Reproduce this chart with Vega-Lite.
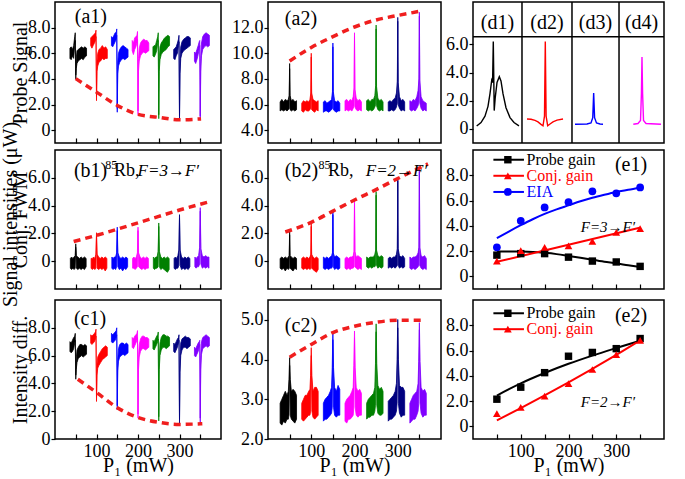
{
"$schema": "https://vega.github.io/schema/vega-lite/v6.json",
"background": "white",
"padding": {"left": 0, "top": 0, "right": 0, "bottom": 0},
"config": {
  "view": {"stroke": "#000000", "strokeWidth": 1.5},
  "axis": {"domain": false, "grid": false, "labelFont": "Liberation Serif", "labelFontSize": 18, "labelColor": "#000000", "tickColor": "#000000", "tickWidth": 1.2, "titleFont": "Liberation Serif", "titleFontSize": 20, "titleFontWeight": "normal", "titleColor": "#000000", "labelOverlap": false, "labelFlush": false, "tickCount": 20},
  "axisX": {"tickSize": -5, "labelPadding": 8},
  "axisY": {"tickSize": 4, "labelPadding": 1},
  "text": {"font": "Liberation Serif", "color": "#000000"}
},
"datasets": {
"a1": [
{"s":50,"x":36,"lo":5.6,"hi":6.4},{"s":50,"x":39,"lo":5.5,"hi":6.5},{"s":50,"x":42,"lo":5.8,"hi":6.3},{"s":50,"x":45,"lo":5.6,"hi":6.6},{"s":50,"x":47.5,"lo":6.6,"hi":7.3},{"s":50,"x":48.8,"lo":7.0,"hi":7.6},{"s":50,"x":50,"lo":4.0,"hi":4.3},{"s":50,"x":51.2,"lo":4.8,"hi":5.6},{"s":50,"x":53,"lo":5.2,"hi":6.2},{"s":50,"x":56,"lo":5.4,"hi":6.3},{"s":50,"x":60,"lo":5.5,"hi":6.4},{"s":50,"x":64,"lo":5.6,"hi":6.5},{"s":50,"x":68,"lo":5.5,"hi":6.4},{"s":50,"x":72,"lo":5.7,"hi":6.5},{"s":50,"x":76,"lo":5.8,"hi":6.4},
{"s":100,"x":86,"lo":6.6,"hi":7.2},{"s":100,"x":89,"lo":6.4,"hi":7.3},{"s":100,"x":92,"lo":6.6,"hi":7.4},{"s":100,"x":95,"lo":6.8,"hi":7.5},{"s":100,"x":97.5,"lo":7.0,"hi":7.6},{"s":100,"x":98.8,"lo":7.3,"hi":7.8},{"s":100,"x":100,"lo":2.3,"hi":2.6},{"s":100,"x":101.2,"lo":4.6,"hi":5.4},{"s":100,"x":103,"lo":5.0,"hi":6.0},{"s":100,"x":106,"lo":5.3,"hi":6.3},{"s":100,"x":110,"lo":5.4,"hi":6.4},{"s":100,"x":114,"lo":5.6,"hi":6.6},{"s":100,"x":118,"lo":5.5,"hi":6.4},{"s":100,"x":122,"lo":5.6,"hi":6.5},{"s":100,"x":126,"lo":5.6,"hi":6.3},
{"s":150,"x":136,"lo":6.6,"hi":7.3},{"s":150,"x":139,"lo":6.5,"hi":7.2},{"s":150,"x":142,"lo":6.7,"hi":7.4},{"s":150,"x":145,"lo":6.9,"hi":7.6},{"s":150,"x":147.5,"lo":7.1,"hi":7.6},{"s":150,"x":148.8,"lo":7.4,"hi":7.9},{"s":150,"x":150,"lo":1.4,"hi":1.7},{"s":150,"x":151.2,"lo":4.4,"hi":5.3},{"s":150,"x":153,"lo":5.0,"hi":6.0},{"s":150,"x":156,"lo":5.3,"hi":6.3},{"s":150,"x":160,"lo":5.5,"hi":6.5},{"s":150,"x":164,"lo":5.6,"hi":6.6},{"s":150,"x":168,"lo":5.5,"hi":6.5},{"s":150,"x":172,"lo":5.6,"hi":6.4},{"s":150,"x":176,"lo":5.7,"hi":6.3},
{"s":200,"x":186,"lo":6.2,"hi":7.0},{"s":200,"x":189,"lo":5.9,"hi":6.8},{"s":200,"x":192,"lo":6.3,"hi":7.2},{"s":200,"x":195,"lo":6.5,"hi":7.3},{"s":200,"x":197.5,"lo":6.8,"hi":7.4},{"s":200,"x":198.8,"lo":7.1,"hi":7.7},{"s":200,"x":200,"lo":1.2,"hi":1.5},{"s":200,"x":201.2,"lo":4.6,"hi":5.6},{"s":200,"x":203,"lo":5.4,"hi":6.4},{"s":200,"x":206,"lo":5.8,"hi":6.8},{"s":200,"x":210,"lo":6.0,"hi":7.0},{"s":200,"x":214,"lo":6.1,"hi":7.1},{"s":200,"x":218,"lo":6.0,"hi":7.0},{"s":200,"x":222,"lo":6.1,"hi":7.0},{"s":200,"x":226,"lo":6.2,"hi":6.8},
{"s":250,"x":236,"lo":5.8,"hi":6.5},{"s":250,"x":239,"lo":5.7,"hi":6.6},{"s":250,"x":242,"lo":5.9,"hi":6.6},{"s":250,"x":245,"lo":6.2,"hi":7.0},{"s":250,"x":247.5,"lo":6.8,"hi":7.3},{"s":250,"x":248.8,"lo":7.0,"hi":7.6},{"s":250,"x":250,"lo":0.9,"hi":1.2},{"s":250,"x":251.2,"lo":4.6,"hi":5.6},{"s":250,"x":253,"lo":5.5,"hi":6.5},{"s":250,"x":256,"lo":5.9,"hi":6.8},{"s":250,"x":260,"lo":6.1,"hi":7.0},{"s":250,"x":264,"lo":6.2,"hi":7.2},{"s":250,"x":268,"lo":6.3,"hi":7.3},{"s":250,"x":272,"lo":6.5,"hi":7.4},{"s":250,"x":276,"lo":6.6,"hi":7.3},
{"s":300,"x":286,"lo":5.6,"hi":6.3},{"s":300,"x":289,"lo":5.5,"hi":6.4},{"s":300,"x":292,"lo":5.8,"hi":6.5},{"s":300,"x":295,"lo":6.0,"hi":6.8},{"s":300,"x":297.5,"lo":6.6,"hi":7.1},{"s":300,"x":298.8,"lo":6.9,"hi":7.4},{"s":300,"x":300,"lo":0.8,"hi":1.1},{"s":300,"x":301.2,"lo":4.4,"hi":5.4},{"s":300,"x":303,"lo":5.6,"hi":6.5},{"s":300,"x":306,"lo":6.0,"hi":6.9},{"s":300,"x":310,"lo":6.2,"hi":7.1},{"s":300,"x":314,"lo":6.3,"hi":7.2},{"s":300,"x":318,"lo":6.4,"hi":7.3},{"s":300,"x":322,"lo":6.5,"hi":7.3},{"s":300,"x":326,"lo":6.6,"hi":7.2},
{"s":350,"x":336,"lo":5.4,"hi":6.1},{"s":350,"x":339,"lo":5.2,"hi":6.0},{"s":350,"x":342,"lo":5.5,"hi":6.3},{"s":350,"x":345,"lo":5.9,"hi":6.6},{"s":350,"x":347.5,"lo":6.4,"hi":6.9},{"s":350,"x":348.8,"lo":6.6,"hi":7.0},{"s":350,"x":350,"lo":0.8,"hi":1.1},{"s":350,"x":351.2,"lo":4.6,"hi":5.6},{"s":350,"x":353,"lo":5.8,"hi":6.8},{"s":350,"x":356,"lo":6.3,"hi":7.3},{"s":350,"x":360,"lo":6.5,"hi":7.5},{"s":350,"x":364,"lo":6.6,"hi":7.6},{"s":350,"x":368,"lo":6.5,"hi":7.5},{"s":350,"x":372,"lo":6.6,"hi":7.4}
],
"a1d": [{"x":50,"y":4.02},{"x":100,"y":2.97},{"x":150,"y":1.93},{"x":200,"y":1.23},{"x":250,"y":1.0},{"x":300,"y":0.81},{"x":352,"y":0.88}],
"a2": [
{"s":50,"x":28,"lo":5.5,"hi":6.2},{"s":50,"x":32,"lo":5.6,"hi":6.4},{"s":50,"x":36,"lo":5.5,"hi":6.2},{"s":50,"x":40,"lo":5.6,"hi":6.4},{"s":50,"x":44,"lo":5.5,"hi":6.3},{"s":50,"x":47,"lo":5.6,"hi":6.4},{"s":50,"x":49,"lo":5.7,"hi":6.7},{"s":50,"x":50,"lo":8.8,"hi":9.2},{"s":50,"x":51,"lo":5.6,"hi":6.7},{"s":50,"x":54,"lo":5.5,"hi":6.3},{"s":50,"x":58,"lo":5.6,"hi":6.4},{"s":50,"x":62,"lo":5.5,"hi":6.2},{"s":50,"x":66,"lo":5.6,"hi":6.3},
{"s":100,"x":78,"lo":5.5,"hi":6.1},{"s":100,"x":82,"lo":5.4,"hi":6.3},{"s":100,"x":86,"lo":5.6,"hi":6.2},{"s":100,"x":90,"lo":5.5,"hi":6.3},{"s":100,"x":94,"lo":5.5,"hi":6.2},{"s":100,"x":97,"lo":5.6,"hi":6.4},{"s":100,"x":99,"lo":5.7,"hi":6.9},{"s":100,"x":100,"lo":9.7,"hi":10.0},{"s":100,"x":101,"lo":5.6,"hi":6.9},{"s":100,"x":104,"lo":5.5,"hi":6.4},{"s":100,"x":108,"lo":5.4,"hi":6.3},{"s":100,"x":112,"lo":5.6,"hi":6.2},{"s":100,"x":116,"lo":5.5,"hi":6.3},
{"s":150,"x":128,"lo":5.4,"hi":6.2},{"s":150,"x":132,"lo":5.5,"hi":6.3},{"s":150,"x":136,"lo":5.5,"hi":6.1},{"s":150,"x":140,"lo":5.4,"hi":6.2},{"s":150,"x":144,"lo":5.5,"hi":6.3},{"s":150,"x":147,"lo":5.6,"hi":6.4},{"s":150,"x":149,"lo":5.7,"hi":7.0},{"s":150,"x":150,"lo":10.5,"hi":10.8},{"s":150,"x":151,"lo":5.6,"hi":7.0},{"s":150,"x":154,"lo":5.5,"hi":6.3},{"s":150,"x":158,"lo":5.4,"hi":6.2},{"s":150,"x":162,"lo":5.5,"hi":6.3},{"s":150,"x":166,"lo":5.5,"hi":6.1},
{"s":200,"x":178,"lo":5.5,"hi":6.3},{"s":200,"x":182,"lo":5.6,"hi":6.4},{"s":200,"x":186,"lo":5.5,"hi":6.2},{"s":200,"x":190,"lo":5.6,"hi":6.4},{"s":200,"x":194,"lo":5.5,"hi":6.3},{"s":200,"x":197,"lo":5.7,"hi":6.6},{"s":200,"x":199,"lo":5.9,"hi":7.3},{"s":200,"x":200,"lo":11.3,"hi":11.6},{"s":200,"x":201,"lo":5.8,"hi":7.2},{"s":200,"x":204,"lo":5.6,"hi":6.5},{"s":200,"x":208,"lo":5.5,"hi":6.3},{"s":200,"x":212,"lo":5.6,"hi":6.4},{"s":200,"x":216,"lo":5.5,"hi":6.2},
{"s":250,"x":228,"lo":5.6,"hi":6.3},{"s":250,"x":232,"lo":5.5,"hi":6.4},{"s":250,"x":236,"lo":5.6,"hi":6.2},{"s":250,"x":240,"lo":5.5,"hi":6.4},{"s":250,"x":244,"lo":5.6,"hi":6.4},{"s":250,"x":247,"lo":5.8,"hi":6.7},{"s":250,"x":249,"lo":6.0,"hi":7.5},{"s":250,"x":250,"lo":11.9,"hi":12.2},{"s":250,"x":251,"lo":5.9,"hi":7.4},{"s":250,"x":254,"lo":5.6,"hi":6.5},{"s":250,"x":258,"lo":5.5,"hi":6.3},{"s":250,"x":262,"lo":5.6,"hi":6.4},{"s":250,"x":266,"lo":5.5,"hi":6.2},
{"s":300,"x":278,"lo":5.5,"hi":6.2},{"s":300,"x":282,"lo":5.5,"hi":6.3},{"s":300,"x":286,"lo":5.6,"hi":6.2},{"s":300,"x":290,"lo":5.5,"hi":6.4},{"s":300,"x":294,"lo":5.6,"hi":6.5},{"s":300,"x":297,"lo":5.8,"hi":6.9},{"s":300,"x":299,"lo":6.1,"hi":7.8},{"s":300,"x":300,"lo":12.5,"hi":12.8},{"s":300,"x":301,"lo":6.0,"hi":7.7},{"s":300,"x":304,"lo":5.7,"hi":6.6},{"s":300,"x":308,"lo":5.5,"hi":6.3},{"s":300,"x":312,"lo":5.6,"hi":6.4},{"s":300,"x":316,"lo":5.5,"hi":6.2},
{"s":350,"x":328,"lo":5.6,"hi":6.3},{"s":350,"x":332,"lo":5.5,"hi":6.2},{"s":350,"x":336,"lo":5.6,"hi":6.4},{"s":350,"x":340,"lo":5.5,"hi":6.3},{"s":350,"x":344,"lo":5.7,"hi":6.6},{"s":350,"x":347,"lo":5.9,"hi":7.1},{"s":350,"x":349,"lo":6.2,"hi":8.0},{"s":350,"x":350,"lo":12.9,"hi":13.2},{"s":350,"x":351,"lo":6.1,"hi":7.9},{"s":350,"x":354,"lo":5.7,"hi":6.6},{"s":350,"x":358,"lo":5.5,"hi":6.3},{"s":350,"x":362,"lo":5.6,"hi":6.2},{"s":350,"x":366,"lo":5.5,"hi":6.1}
],
"a2d": [{"x":50,"y":9.4},{"x":100,"y":10.45},{"x":150,"y":11.3},{"x":200,"y":12.05},{"x":250,"y":12.6},{"x":300,"y":12.95},{"x":355,"y":13.3}],
"b1": [
{"s":50,"x":37,"lo":-0.5,"hi":0.2},{"s":50,"x":40,"lo":-0.6,"hi":0.3},{"s":50,"x":43,"lo":-0.5,"hi":0.2},{"s":50,"x":46,"lo":-0.6,"hi":0.3},{"s":50,"x":48.5,"lo":-0.5,"hi":0.4},{"s":50,"x":50,"lo":1.0,"hi":1.25},{"s":50,"x":51.5,"lo":-0.5,"hi":0.4},{"s":50,"x":55,"lo":-0.6,"hi":0.3},{"s":50,"x":59,"lo":-0.5,"hi":0.2},{"s":50,"x":63,"lo":-0.6,"hi":0.3},{"s":50,"x":67,"lo":-0.5,"hi":0.2},{"s":50,"x":71,"lo":-0.6,"hi":0.3},{"s":50,"x":75,"lo":-0.4,"hi":0.2},
{"s":100,"x":87,"lo":-0.5,"hi":0.2},{"s":100,"x":90,"lo":-0.6,"hi":0.2},{"s":100,"x":93,"lo":-0.5,"hi":0.3},{"s":100,"x":96,"lo":-0.6,"hi":0.2},{"s":100,"x":98.5,"lo":-0.5,"hi":0.5},{"s":100,"x":100,"lo":1.8,"hi":2.05},{"s":100,"x":101.5,"lo":-0.5,"hi":0.5},{"s":100,"x":105,"lo":-0.6,"hi":0.3},{"s":100,"x":109,"lo":-0.5,"hi":0.2},{"s":100,"x":113,"lo":-0.6,"hi":0.3},{"s":100,"x":117,"lo":-0.5,"hi":0.2},{"s":100,"x":121,"lo":-0.7,"hi":0.3},{"s":100,"x":125,"lo":-0.5,"hi":0.2},
{"s":150,"x":137,"lo":-0.5,"hi":0.3},{"s":150,"x":140,"lo":-0.6,"hi":0.2},{"s":150,"x":143,"lo":-0.5,"hi":0.3},{"s":150,"x":146,"lo":-0.6,"hi":0.3},{"s":150,"x":148.5,"lo":-0.4,"hi":0.6},{"s":150,"x":150,"lo":2.2,"hi":2.45},{"s":150,"x":151.5,"lo":-0.4,"hi":0.6},{"s":150,"x":155,"lo":-0.6,"hi":0.3},{"s":150,"x":159,"lo":-0.5,"hi":0.2},{"s":150,"x":163,"lo":-0.7,"hi":0.3},{"s":150,"x":167,"lo":-0.5,"hi":0.2},{"s":150,"x":171,"lo":-0.6,"hi":0.3},{"s":150,"x":175,"lo":-0.4,"hi":0.2},
{"s":200,"x":187,"lo":-0.5,"hi":0.2},{"s":200,"x":190,"lo":-0.5,"hi":0.3},{"s":200,"x":193,"lo":-0.6,"hi":0.2},{"s":200,"x":196,"lo":-0.5,"hi":0.3},{"s":200,"x":198.5,"lo":-0.4,"hi":0.6},{"s":200,"x":200,"lo":2.2,"hi":2.45},{"s":200,"x":201.5,"lo":-0.4,"hi":0.6},{"s":200,"x":205,"lo":-0.5,"hi":0.3},{"s":200,"x":209,"lo":-0.6,"hi":0.2},{"s":200,"x":213,"lo":-0.5,"hi":0.3},{"s":200,"x":217,"lo":-0.6,"hi":0.2},{"s":200,"x":221,"lo":-0.5,"hi":0.3},{"s":200,"x":225,"lo":-0.5,"hi":0.2},
{"s":250,"x":237,"lo":-0.5,"hi":0.3},{"s":250,"x":240,"lo":-0.6,"hi":0.2},{"s":250,"x":243,"lo":-0.5,"hi":0.3},{"s":250,"x":246,"lo":-0.5,"hi":0.3},{"s":250,"x":248.5,"lo":-0.4,"hi":0.7},{"s":250,"x":250,"lo":2.5,"hi":2.75},{"s":250,"x":251.5,"lo":-0.4,"hi":0.7},{"s":250,"x":255,"lo":-0.6,"hi":0.3},{"s":250,"x":259,"lo":-0.5,"hi":0.2},{"s":250,"x":263,"lo":-0.6,"hi":0.3},{"s":250,"x":267,"lo":-0.7,"hi":0.2},{"s":250,"x":271,"lo":-0.8,"hi":0.3},{"s":250,"x":275,"lo":-0.6,"hi":0.2},
{"s":300,"x":287,"lo":-0.5,"hi":0.2},{"s":300,"x":290,"lo":-0.6,"hi":0.3},{"s":300,"x":293,"lo":-0.5,"hi":0.2},{"s":300,"x":296,"lo":-0.5,"hi":0.4},{"s":300,"x":298.5,"lo":-0.3,"hi":0.8},{"s":300,"x":300,"lo":3.1,"hi":3.35},{"s":300,"x":301.5,"lo":-0.3,"hi":0.8},{"s":300,"x":305,"lo":-0.6,"hi":0.3},{"s":300,"x":309,"lo":-0.5,"hi":0.2},{"s":300,"x":313,"lo":-0.6,"hi":0.3},{"s":300,"x":317,"lo":-0.5,"hi":0.2},{"s":300,"x":321,"lo":-0.6,"hi":0.3},{"s":300,"x":325,"lo":-0.4,"hi":0.2},
{"s":350,"x":337,"lo":-0.4,"hi":0.3},{"s":350,"x":340,"lo":-0.5,"hi":0.2},{"s":350,"x":343,"lo":-0.4,"hi":0.3},{"s":350,"x":346,"lo":-0.4,"hi":0.4},{"s":350,"x":348.5,"lo":-0.2,"hi":1.0},{"s":350,"x":350,"lo":3.6,"hi":3.85},{"s":350,"x":351.5,"lo":-0.2,"hi":0.9},{"s":350,"x":355,"lo":-0.5,"hi":0.4},{"s":350,"x":359,"lo":-0.4,"hi":0.3},{"s":350,"x":363,"lo":-0.5,"hi":0.4},{"s":350,"x":367,"lo":-0.4,"hi":0.3},{"s":350,"x":371,"lo":-0.5,"hi":0.3}
],
"b1d": [{"x":45,"y":1.42},{"x":100,"y":1.86},{"x":150,"y":2.3},{"x":200,"y":2.76},{"x":250,"y":3.22},{"x":300,"y":3.68},{"x":350,"y":4.1},{"x":373,"y":4.28}],
"b2": [
{"s":50,"x":28,"lo":-0.5,"hi":0.2},{"s":50,"x":32,"lo":-0.6,"hi":0.3},{"s":50,"x":36,"lo":-0.5,"hi":0.2},{"s":50,"x":40,"lo":-0.7,"hi":0.3},{"s":50,"x":44,"lo":-0.5,"hi":0.2},{"s":50,"x":47,"lo":-0.6,"hi":0.3},{"s":50,"x":49,"lo":-0.5,"hi":0.4},{"s":50,"x":50,"lo":1.9,"hi":2.15},{"s":50,"x":51,"lo":-0.5,"hi":0.4},{"s":50,"x":54,"lo":-0.6,"hi":0.3},{"s":50,"x":58,"lo":-0.7,"hi":0.2},{"s":50,"x":62,"lo":-0.5,"hi":0.3},{"s":50,"x":66,"lo":-0.6,"hi":0.2},
{"s":100,"x":78,"lo":-0.5,"hi":0.2},{"s":100,"x":82,"lo":-0.6,"hi":0.3},{"s":100,"x":86,"lo":-0.5,"hi":0.2},{"s":100,"x":90,"lo":-0.6,"hi":0.3},{"s":100,"x":94,"lo":-0.5,"hi":0.2},{"s":100,"x":97,"lo":-0.6,"hi":0.3},{"s":100,"x":99,"lo":-0.5,"hi":0.5},{"s":100,"x":100,"lo":2.5,"hi":2.75},{"s":100,"x":101,"lo":-0.5,"hi":0.5},{"s":100,"x":104,"lo":-0.6,"hi":0.3},{"s":100,"x":108,"lo":-0.7,"hi":0.2},{"s":100,"x":112,"lo":-0.8,"hi":0.3},{"s":100,"x":116,"lo":-0.6,"hi":0.2},
{"s":150,"x":128,"lo":-0.5,"hi":0.3},{"s":150,"x":132,"lo":-0.6,"hi":0.2},{"s":150,"x":136,"lo":-0.5,"hi":0.3},{"s":150,"x":140,"lo":-0.6,"hi":0.2},{"s":150,"x":144,"lo":-0.5,"hi":0.3},{"s":150,"x":147,"lo":-0.5,"hi":0.4},{"s":150,"x":149,"lo":-0.4,"hi":0.6},{"s":150,"x":150,"lo":3.35,"hi":3.6},{"s":150,"x":151,"lo":-0.4,"hi":0.6},{"s":150,"x":154,"lo":-0.6,"hi":0.3},{"s":150,"x":158,"lo":-0.5,"hi":0.4},{"s":150,"x":162,"lo":-0.6,"hi":0.3},{"s":150,"x":166,"lo":-0.5,"hi":0.2},
{"s":200,"x":178,"lo":-0.5,"hi":0.2},{"s":200,"x":182,"lo":-0.6,"hi":0.3},{"s":200,"x":186,"lo":-0.5,"hi":0.2},{"s":200,"x":190,"lo":-0.6,"hi":0.3},{"s":200,"x":194,"lo":-0.5,"hi":0.3},{"s":200,"x":197,"lo":-0.5,"hi":0.4},{"s":200,"x":199,"lo":-0.4,"hi":0.7},{"s":200,"x":200,"lo":4.1,"hi":4.4},{"s":200,"x":201,"lo":-0.4,"hi":0.7},{"s":200,"x":204,"lo":-0.5,"hi":0.3},{"s":200,"x":208,"lo":-0.6,"hi":0.4},{"s":200,"x":212,"lo":-0.5,"hi":0.3},{"s":200,"x":216,"lo":-0.6,"hi":0.2},
{"s":250,"x":228,"lo":-0.4,"hi":0.3},{"s":250,"x":232,"lo":-0.5,"hi":0.2},{"s":250,"x":236,"lo":-0.4,"hi":0.3},{"s":250,"x":240,"lo":-0.5,"hi":0.3},{"s":250,"x":244,"lo":-0.4,"hi":0.3},{"s":250,"x":247,"lo":-0.4,"hi":0.5},{"s":250,"x":249,"lo":-0.3,"hi":0.8},{"s":250,"x":250,"lo":4.75,"hi":5.0},{"s":250,"x":251,"lo":-0.3,"hi":0.8},{"s":250,"x":254,"lo":-0.5,"hi":0.4},{"s":250,"x":258,"lo":-0.4,"hi":0.3},{"s":250,"x":262,"lo":-0.5,"hi":0.4},{"s":250,"x":266,"lo":-0.4,"hi":0.3},
{"s":300,"x":278,"lo":-0.5,"hi":0.2},{"s":300,"x":282,"lo":-0.4,"hi":0.3},{"s":300,"x":286,"lo":-0.5,"hi":0.2},{"s":300,"x":290,"lo":-0.4,"hi":0.3},{"s":300,"x":294,"lo":-0.5,"hi":0.3},{"s":300,"x":297,"lo":-0.4,"hi":0.5},{"s":300,"x":299,"lo":-0.3,"hi":0.9},{"s":300,"x":300,"lo":5.8,"hi":6.05},{"s":300,"x":301,"lo":-0.3,"hi":0.9},{"s":300,"x":304,"lo":-0.5,"hi":0.4},{"s":300,"x":308,"lo":-0.4,"hi":0.3},{"s":300,"x":312,"lo":-0.5,"hi":0.4},{"s":300,"x":316,"lo":-0.4,"hi":0.2},
{"s":350,"x":328,"lo":-0.5,"hi":0.3},{"s":350,"x":332,"lo":-0.6,"hi":0.2},{"s":350,"x":336,"lo":-0.5,"hi":0.3},{"s":350,"x":340,"lo":-0.6,"hi":0.3},{"s":350,"x":344,"lo":-0.5,"hi":0.4},{"s":350,"x":347,"lo":-0.4,"hi":0.6},{"s":350,"x":349,"lo":-0.3,"hi":1.0},{"s":350,"x":350,"lo":6.45,"hi":6.7},{"s":350,"x":351,"lo":-0.3,"hi":1.0},{"s":350,"x":354,"lo":-0.5,"hi":0.4},{"s":350,"x":358,"lo":-0.6,"hi":0.3},{"s":350,"x":362,"lo":-0.5,"hi":0.4},{"s":350,"x":366,"lo":-0.6,"hi":0.2}
],
"b2d": [{"x":40,"y":2.1},{"x":100,"y":2.8},{"x":150,"y":3.6},{"x":200,"y":4.4},{"x":250,"y":5.15},{"x":300,"y":5.95},{"x":370,"y":7.0}],
"c1": [
{"s":50,"x":36,"lo":6.3,"hi":7.0},{"s":50,"x":39,"lo":6.2,"hi":6.9},{"s":50,"x":42,"lo":6.3,"hi":7.1},{"s":50,"x":45,"lo":6.5,"hi":7.3},{"s":50,"x":47.5,"lo":6.9,"hi":7.4},{"s":50,"x":48.8,"lo":7.1,"hi":7.6},{"s":50,"x":50,"lo":4.3,"hi":4.6},{"s":50,"x":51.2,"lo":5.0,"hi":5.8},{"s":50,"x":53,"lo":5.5,"hi":6.4},{"s":50,"x":56,"lo":5.8,"hi":6.6},{"s":50,"x":60,"lo":5.9,"hi":6.8},{"s":50,"x":64,"lo":6.0,"hi":6.8},{"s":50,"x":68,"lo":5.9,"hi":6.7},{"s":50,"x":72,"lo":6.0,"hi":6.8},{"s":50,"x":76,"lo":6.1,"hi":6.7},
{"s":100,"x":86,"lo":6.9,"hi":7.5},{"s":100,"x":89,"lo":6.8,"hi":7.4},{"s":100,"x":92,"lo":6.9,"hi":7.5},{"s":100,"x":95,"lo":7.0,"hi":7.6},{"s":100,"x":97.5,"lo":7.2,"hi":7.7},{"s":100,"x":98.8,"lo":7.4,"hi":7.9},{"s":100,"x":100,"lo":2.7,"hi":3.0},{"s":100,"x":101.2,"lo":4.6,"hi":5.4},{"s":100,"x":103,"lo":5.1,"hi":5.9},{"s":100,"x":106,"lo":5.3,"hi":6.1},{"s":100,"x":110,"lo":5.5,"hi":6.3},{"s":100,"x":114,"lo":5.7,"hi":6.5},{"s":100,"x":118,"lo":5.8,"hi":6.6},{"s":100,"x":122,"lo":5.9,"hi":6.7},{"s":100,"x":126,"lo":6.0,"hi":6.6},
{"s":150,"x":136,"lo":7.0,"hi":7.6},{"s":150,"x":139,"lo":6.9,"hi":7.5},{"s":150,"x":142,"lo":7.0,"hi":7.6},{"s":150,"x":145,"lo":7.1,"hi":7.7},{"s":150,"x":147.5,"lo":7.3,"hi":7.8},{"s":150,"x":148.8,"lo":7.5,"hi":8.0},{"s":150,"x":150,"lo":2.1,"hi":2.4},{"s":150,"x":151.2,"lo":4.9,"hi":5.7},{"s":150,"x":153,"lo":5.6,"hi":6.5},{"s":150,"x":156,"lo":5.9,"hi":6.8},{"s":150,"x":160,"lo":6.0,"hi":6.9},{"s":150,"x":164,"lo":6.1,"hi":6.9},{"s":150,"x":168,"lo":6.0,"hi":6.8},{"s":150,"x":172,"lo":6.1,"hi":6.9},{"s":150,"x":176,"lo":6.2,"hi":6.8},
{"s":200,"x":186,"lo":6.6,"hi":7.3},{"s":200,"x":189,"lo":6.5,"hi":7.2},{"s":200,"x":192,"lo":6.7,"hi":7.4},{"s":200,"x":195,"lo":6.9,"hi":7.5},{"s":200,"x":197.5,"lo":7.1,"hi":7.6},{"s":200,"x":198.8,"lo":7.3,"hi":7.8},{"s":200,"x":200,"lo":1.5,"hi":1.8},{"s":200,"x":201.2,"lo":5.0,"hi":5.9},{"s":200,"x":203,"lo":5.9,"hi":6.8},{"s":200,"x":206,"lo":6.3,"hi":7.2},{"s":200,"x":210,"lo":6.5,"hi":7.4},{"s":200,"x":214,"lo":6.5,"hi":7.4},{"s":200,"x":218,"lo":6.4,"hi":7.3},{"s":200,"x":222,"lo":6.5,"hi":7.3},{"s":200,"x":226,"lo":6.6,"hi":7.2},
{"s":250,"x":236,"lo":6.5,"hi":7.1},{"s":250,"x":239,"lo":6.4,"hi":7.0},{"s":250,"x":242,"lo":6.6,"hi":7.2},{"s":250,"x":245,"lo":6.8,"hi":7.4},{"s":250,"x":247.5,"lo":7.0,"hi":7.5},{"s":250,"x":248.8,"lo":7.2,"hi":7.7},{"s":250,"x":250,"lo":1.3,"hi":1.6},{"s":250,"x":251.2,"lo":5.0,"hi":5.9},{"s":250,"x":253,"lo":6.0,"hi":6.9},{"s":250,"x":256,"lo":6.4,"hi":7.3},{"s":250,"x":260,"lo":6.6,"hi":7.5},{"s":250,"x":264,"lo":6.6,"hi":7.5},{"s":250,"x":268,"lo":6.5,"hi":7.4},{"s":250,"x":272,"lo":6.6,"hi":7.4},{"s":250,"x":276,"lo":6.7,"hi":7.3},
{"s":300,"x":286,"lo":6.3,"hi":6.9},{"s":300,"x":289,"lo":6.2,"hi":6.8},{"s":300,"x":292,"lo":6.4,"hi":7.0},{"s":300,"x":295,"lo":6.6,"hi":7.2},{"s":300,"x":297.5,"lo":6.9,"hi":7.3},{"s":300,"x":298.8,"lo":7.1,"hi":7.5},{"s":300,"x":300,"lo":1.1,"hi":1.4},{"s":300,"x":301.2,"lo":4.8,"hi":5.8},{"s":300,"x":303,"lo":6.0,"hi":6.9},{"s":300,"x":306,"lo":6.4,"hi":7.2},{"s":300,"x":310,"lo":6.6,"hi":7.3},{"s":300,"x":314,"lo":6.6,"hi":7.4},{"s":300,"x":318,"lo":6.5,"hi":7.3},{"s":300,"x":322,"lo":6.6,"hi":7.3},{"s":300,"x":326,"lo":6.7,"hi":7.2},
{"s":350,"x":336,"lo":6.0,"hi":6.6},{"s":350,"x":339,"lo":5.9,"hi":6.5},{"s":350,"x":342,"lo":6.1,"hi":6.7},{"s":350,"x":345,"lo":6.3,"hi":6.9},{"s":350,"x":347.5,"lo":6.6,"hi":7.0},{"s":350,"x":348.8,"lo":6.8,"hi":7.1},{"s":350,"x":350,"lo":1.2,"hi":1.5},{"s":350,"x":351.2,"lo":5.0,"hi":6.0},{"s":350,"x":353,"lo":6.1,"hi":7.0},{"s":350,"x":356,"lo":6.5,"hi":7.3},{"s":350,"x":360,"lo":6.6,"hi":7.4},{"s":350,"x":364,"lo":6.7,"hi":7.5},{"s":350,"x":368,"lo":6.6,"hi":7.4},{"s":350,"x":372,"lo":6.7,"hi":7.3}
],
"c1d": [{"x":55,"y":4.3},{"x":100,"y":3.35},{"x":150,"y":2.25},{"x":200,"y":1.55},{"x":250,"y":1.2},{"x":300,"y":1.05},{"x":355,"y":1.1}],
"c2": [
{"s":50,"x":28,"lo":2.4,"hi":2.9},{"s":50,"x":32,"lo":2.35,"hi":3.0},{"s":50,"x":36,"lo":2.45,"hi":3.1},{"s":50,"x":40,"lo":2.4,"hi":3.2},{"s":50,"x":44,"lo":2.5,"hi":3.1},{"s":50,"x":47,"lo":2.5,"hi":3.2},{"s":50,"x":48.5,"lo":2.6,"hi":3.5},{"s":50,"x":50,"lo":3.85,"hi":4.05},{"s":50,"x":51.5,"lo":2.6,"hi":3.5},{"s":50,"x":54,"lo":2.5,"hi":3.2},{"s":50,"x":58,"lo":2.45,"hi":3.25},{"s":50,"x":62,"lo":2.4,"hi":3.2},{"s":50,"x":66,"lo":2.5,"hi":3.1},
{"s":100,"x":78,"lo":2.5,"hi":2.9},{"s":100,"x":82,"lo":2.45,"hi":3.0},{"s":100,"x":86,"lo":2.5,"hi":3.1},{"s":100,"x":90,"lo":2.55,"hi":3.1},{"s":100,"x":94,"lo":2.6,"hi":3.2},{"s":100,"x":97,"lo":2.6,"hi":3.25},{"s":100,"x":98.5,"lo":2.7,"hi":3.6},{"s":100,"x":100,"lo":4.1,"hi":4.3},{"s":100,"x":101.5,"lo":2.7,"hi":3.6},{"s":100,"x":104,"lo":2.55,"hi":3.2},{"s":100,"x":108,"lo":2.5,"hi":3.3},{"s":100,"x":112,"lo":2.55,"hi":3.3},{"s":100,"x":116,"lo":2.6,"hi":3.2},
{"s":150,"x":128,"lo":2.45,"hi":2.9},{"s":150,"x":132,"lo":2.5,"hi":3.0},{"s":150,"x":136,"lo":2.5,"hi":3.05},{"s":150,"x":140,"lo":2.55,"hi":3.1},{"s":150,"x":144,"lo":2.6,"hi":3.2},{"s":150,"x":147,"lo":2.65,"hi":3.3},{"s":150,"x":148.5,"lo":2.8,"hi":3.8},{"s":150,"x":150,"lo":4.5,"hi":4.68},{"s":150,"x":151.5,"lo":2.8,"hi":3.8},{"s":150,"x":154,"lo":2.6,"hi":3.3},{"s":150,"x":158,"lo":2.55,"hi":3.2},{"s":150,"x":162,"lo":2.6,"hi":3.35},{"s":150,"x":166,"lo":2.6,"hi":3.25},
{"s":200,"x":178,"lo":2.45,"hi":2.9},{"s":200,"x":182,"lo":2.4,"hi":3.0},{"s":200,"x":186,"lo":2.5,"hi":3.05},{"s":200,"x":190,"lo":2.5,"hi":3.1},{"s":200,"x":194,"lo":2.55,"hi":3.2},{"s":200,"x":197,"lo":2.6,"hi":3.3},{"s":200,"x":198.5,"lo":2.8,"hi":3.85},{"s":200,"x":200,"lo":4.55,"hi":4.72},{"s":200,"x":201.5,"lo":2.8,"hi":3.8},{"s":200,"x":204,"lo":2.6,"hi":3.3},{"s":200,"x":208,"lo":2.55,"hi":3.2},{"s":200,"x":212,"lo":2.6,"hi":3.25},{"s":200,"x":216,"lo":2.6,"hi":3.15},
{"s":250,"x":228,"lo":2.5,"hi":2.9},{"s":250,"x":232,"lo":2.55,"hi":3.0},{"s":250,"x":236,"lo":2.55,"hi":3.05},{"s":250,"x":240,"lo":2.6,"hi":3.1},{"s":250,"x":244,"lo":2.6,"hi":3.15},{"s":250,"x":247,"lo":2.7,"hi":3.3},{"s":250,"x":248.5,"lo":2.85,"hi":3.9},{"s":250,"x":250,"lo":4.7,"hi":4.9},{"s":250,"x":251.5,"lo":2.85,"hi":3.9},{"s":250,"x":254,"lo":2.65,"hi":3.35},{"s":250,"x":258,"lo":2.6,"hi":3.25},{"s":250,"x":262,"lo":2.6,"hi":3.3},{"s":250,"x":266,"lo":2.65,"hi":3.2},
{"s":300,"x":278,"lo":2.45,"hi":2.95},{"s":300,"x":282,"lo":2.5,"hi":3.0},{"s":300,"x":286,"lo":2.5,"hi":3.05},{"s":300,"x":290,"lo":2.55,"hi":3.1},{"s":300,"x":294,"lo":2.6,"hi":3.2},{"s":300,"x":297,"lo":2.7,"hi":3.4},{"s":300,"x":298.5,"lo":2.9,"hi":4.0},{"s":300,"x":300,"lo":4.8,"hi":5.01},{"s":300,"x":301.5,"lo":2.9,"hi":4.0},{"s":300,"x":304,"lo":2.65,"hi":3.35},{"s":300,"x":308,"lo":2.55,"hi":3.3},{"s":300,"x":312,"lo":2.6,"hi":3.3},{"s":300,"x":316,"lo":2.6,"hi":3.2},
{"s":350,"x":328,"lo":2.4,"hi":2.9},{"s":350,"x":332,"lo":2.45,"hi":3.0},{"s":350,"x":336,"lo":2.5,"hi":3.1},{"s":350,"x":340,"lo":2.5,"hi":3.15},{"s":350,"x":344,"lo":2.6,"hi":3.2},{"s":350,"x":347,"lo":2.7,"hi":3.4},{"s":350,"x":348.5,"lo":2.9,"hi":3.95},{"s":350,"x":350,"lo":4.75,"hi":4.93},{"s":350,"x":351.5,"lo":2.9,"hi":3.95},{"s":350,"x":354,"lo":2.65,"hi":3.3},{"s":350,"x":358,"lo":2.55,"hi":3.2},{"s":350,"x":362,"lo":2.6,"hi":3.25},{"s":350,"x":366,"lo":2.6,"hi":3.15}
],
"c2d": [{"x":50,"y":4.06},{"x":100,"y":4.38},{"x":150,"y":4.68},{"x":200,"y":4.84},{"x":250,"y":4.94},{"x":300,"y":4.99},{"x":362,"y":4.99}],
"d": [
{"p":"d1","x":0.077,"y":0.2},{"p":"d1","x":0.168,"y":0.45},{"p":"d1","x":0.251,"y":0.9},{"p":"d1","x":0.314,"y":1.6},{"p":"d1","x":0.356,"y":2.5},{"p":"d1","x":0.392,"y":3.45},{"p":"d1","x":0.41,"y":3.3},{"p":"d1","x":0.425,"y":6.2},{"p":"d1","x":0.444,"y":1.3},{"p":"d1","x":0.465,"y":2.2},{"p":"d1","x":0.503,"y":3.3},{"p":"d1","x":0.551,"y":3.7},{"p":"d1","x":0.586,"y":3.4},{"p":"d1","x":0.628,"y":2.5},{"p":"d1","x":0.691,"y":1.5},{"p":"d1","x":0.775,"y":0.8},{"p":"d1","x":0.859,"y":0.45},{"p":"d1","x":0.963,"y":0.22},
{"p":"d2","x":1.131,"y":0.7},{"p":"d2","x":1.215,"y":0.68},{"p":"d2","x":1.298,"y":0.6},{"p":"d2","x":1.361,"y":0.5},{"p":"d2","x":1.424,"y":0.32},{"p":"d2","x":1.466,"y":0.22},{"p":"d2","x":1.497,"y":0.9},{"p":"d2","x":1.514,"y":6.2},{"p":"d2","x":1.531,"y":0.9},{"p":"d2","x":1.564,"y":0.22},{"p":"d2","x":1.613,"y":0.35},{"p":"d2","x":1.675,"y":0.5},{"p":"d2","x":1.759,"y":0.62},{"p":"d2","x":1.885,"y":0.7},
{"p":"d3","x":2.136,"y":0.33},{"p":"d3","x":2.387,"y":0.35},{"p":"d3","x":2.471,"y":0.42},{"p":"d3","x":2.508,"y":0.8},{"p":"d3","x":2.527,"y":2.55},{"p":"d3","x":2.546,"y":0.8},{"p":"d3","x":2.586,"y":0.42},{"p":"d3","x":2.66,"y":0.35},{"p":"d3","x":2.723,"y":0.33},
{"p":"d4","x":3.357,"y":0.33},{"p":"d4","x":3.455,"y":0.38},{"p":"d4","x":3.508,"y":0.6},{"p":"d4","x":3.527,"y":2.5},{"p":"d4","x":3.539,"y":5.1},{"p":"d4","x":3.552,"y":2.5},{"p":"d4","x":3.571,"y":0.6},{"p":"d4","x":3.623,"y":0.38},{"p":"d4","x":3.937,"y":0.33}
],
"e1p": [{"g":"Probe gain","x":50,"y":1.68},{"g":"Probe gain","x":100,"y":1.8},{"g":"Probe gain","x":150,"y":1.8},{"g":"Probe gain","x":200,"y":1.52},{"g":"Probe gain","x":250,"y":1.21},{"g":"Probe gain","x":300,"y":1.14},{"g":"Probe gain","x":350,"y":0.79},
{"g":"Conj. gain","x":50,"y":1.2},{"g":"Conj. gain","x":100,"y":2.03},{"g":"Conj. gain","x":150,"y":2.3},{"g":"Conj. gain","x":200,"y":2.42},{"g":"Conj. gain","x":250,"y":2.77},{"g":"Conj. gain","x":300,"y":3.47},{"g":"Conj. gain","x":350,"y":3.77},
{"g":"EIA","x":50,"y":2.3},{"g":"EIA","x":100,"y":4.4},{"g":"EIA","x":150,"y":5.45},{"g":"EIA","x":200,"y":5.87},{"g":"EIA","x":250,"y":6.73},{"g":"EIA","x":300,"y":6.57},{"g":"EIA","x":350,"y":7.04}],
"e1f": [{"g":"Probe gain","x":50,"y":1.96},{"g":"Probe gain","x":75,"y":1.97},{"g":"Probe gain","x":100,"y":1.96},{"g":"Probe gain","x":125,"y":1.93},{"g":"Probe gain","x":150,"y":1.86},{"g":"Probe gain","x":175,"y":1.76},{"g":"Probe gain","x":200,"y":1.62},{"g":"Probe gain","x":225,"y":1.47},{"g":"Probe gain","x":250,"y":1.31},{"g":"Probe gain","x":275,"y":1.16},{"g":"Probe gain","x":300,"y":1.03},{"g":"Probe gain","x":325,"y":0.88},{"g":"Probe gain","x":350,"y":0.74},
{"g":"Conj. gain","x":50,"y":1.15},{"g":"Conj. gain","x":200,"y":2.5},{"g":"Conj. gain","x":350,"y":3.85},
{"g":"EIA","x":50,"y":3.03},{"g":"EIA","x":75,"y":3.55},{"g":"EIA","x":100,"y":4.05},{"g":"EIA","x":125,"y":4.52},{"g":"EIA","x":150,"y":4.94},{"g":"EIA","x":175,"y":5.3},{"g":"EIA","x":200,"y":5.62},{"g":"EIA","x":225,"y":5.94},{"g":"EIA","x":250,"y":6.22},{"g":"EIA","x":275,"y":6.46},{"g":"EIA","x":300,"y":6.68},{"g":"EIA","x":325,"y":6.86},{"g":"EIA","x":350,"y":7.02}],
"e2p": [{"g":"Probe gain","x":50,"y":2.15},{"g":"Probe gain","x":100,"y":3.1},{"g":"Probe gain","x":150,"y":4.25},{"g":"Probe gain","x":200,"y":5.55},{"g":"Probe gain","x":250,"y":5.85},{"g":"Probe gain","x":300,"y":6.15},{"g":"Probe gain","x":350,"y":6.95},
{"g":"Conj. gain","x":50,"y":1.0},{"g":"Conj. gain","x":100,"y":1.5},{"g":"Conj. gain","x":150,"y":2.4},{"g":"Conj. gain","x":200,"y":3.38},{"g":"Conj. gain","x":250,"y":4.5},{"g":"Conj. gain","x":300,"y":5.67},{"g":"Conj. gain","x":350,"y":6.8}],
"e2f": [{"g":"Probe gain","x":50,"y":2.44},{"g":"Probe gain","x":100,"y":3.4},{"g":"Probe gain","x":150,"y":4.22},{"g":"Probe gain","x":200,"y":4.95},{"g":"Probe gain","x":250,"y":5.6},{"g":"Probe gain","x":300,"y":6.2},{"g":"Probe gain","x":350,"y":6.78},
{"g":"Conj. gain","x":50,"y":0.48},{"g":"Conj. gain","x":100,"y":1.45},{"g":"Conj. gain","x":150,"y":2.45},{"g":"Conj. gain","x":200,"y":3.48},{"g":"Conj. gain","x":250,"y":4.55},{"g":"Conj. gain","x":300,"y":5.65},{"g":"Conj. gain","x":350,"y":6.8}]
},
"resolve": {"scale": {"color": "independent", "stroke": "independent"}, "legend": {"color": "independent", "stroke": "independent"}},
"bounds": "flush",
"spacing": 0,
"columns": 5,
"concat": [
 {"width": 166, "height": 141, "layer": [
   {"data": {"name": "a1"}, "mark": {"type": "area", "strokeWidth": 0.8, "clip": true},
    "encoding": {
     "x": {"field": "x", "type": "quantitative", "scale": {"domain": [29, 373]}, "axis": {"values": [50,100,150,200,250,300,350], "tickCount": 20, "labels": false, "title": null}},
     "y": {"field": "hi", "type": "quantitative", "scale": {"domain": [-0.07, 9.76]}, "axis": {"values": [0,2,4,6,8], "tickCount": 20, "labelExpr": "datum.value === 0 ? '0' : format(datum.value, '.1f')", "title": "Probe Signal", "titlePadding": -3}},
     "y2": {"field": "lo"},
     "color": {"field": "s", "type": "ordinal", "scale": {"domain": [50,100,150,200,250,300,350], "range": ["#000000","#ff0000","#0000ff","#ff00ff","#008000","#000080","#8000ff"]}, "legend": null},
     "stroke": {"field": "s", "type": "ordinal", "scale": {"domain": [50,100,150,200,250,300,350], "range": ["#000000","#ff0000","#0000ff","#ff00ff","#008000","#000080","#8000ff"]}, "legend": null}
    }},
   {"data": {"name": "a1d"}, "mark": {"type": "line", "color": "#f01e1e", "strokeWidth": 3.5, "strokeDash": [7, 5], "interpolate": "monotone"},
    "encoding": {"x": {"field": "x", "type": "quantitative"}, "y": {"field": "y", "type": "quantitative"}}},
   {"data": {"values": [{}]}, "mark": {"type": "text", "text": "(a1)", "align": "left", "baseline": "middle", "fontSize": 20},
    "encoding": {"x": {"datum": 47.6}, "y": {"datum": 8.8}}}
 ]},
 {"width": 47, "height": 1, "view": {"stroke": null}, "data": {"values": []}, "mark": "point"},
 {"width": 173, "height": 141, "layer": [
   {"data": {"name": "a2"}, "mark": {"type": "area", "strokeWidth": 0.8, "clip": true},
    "encoding": {
     "x": {"field": "x", "type": "quantitative", "scale": {"domain": [17, 398]}, "axis": {"values": [50,100,150,200,250,300,350], "tickCount": 20, "labels": false, "title": null}},
     "y": {"field": "hi", "type": "quantitative", "scale": {"domain": [3.9, 13.8]}, "axis": {"values": [4,6,8,10,12], "tickCount": 20, "format": ".1f", "title": null}},
     "y2": {"field": "lo"},
     "color": {"field": "s", "type": "ordinal", "scale": {"domain": [50,100,150,200,250,300,350], "range": ["#000000","#ff0000","#0000ff","#ff00ff","#008000","#000080","#8000ff"]}, "legend": null},
     "stroke": {"field": "s", "type": "ordinal", "scale": {"domain": [50,100,150,200,250,300,350], "range": ["#000000","#ff0000","#0000ff","#ff00ff","#008000","#000080","#8000ff"]}, "legend": null}
    }},
   {"data": {"name": "a2d"}, "mark": {"type": "line", "color": "#f01e1e", "strokeWidth": 3.5, "strokeDash": [7, 5], "interpolate": "monotone"},
    "encoding": {"x": {"field": "x", "type": "quantitative"}, "y": {"field": "y", "type": "quantitative"}}},
   {"data": {"values": [{}]}, "mark": {"type": "text", "text": "(a2)", "align": "left", "baseline": "middle", "fontSize": 20},
    "encoding": {"x": {"datum": 39}, "y": {"datum": 12.67}}}
 ]},
 {"width": 32, "height": 1, "view": {"stroke": null}, "data": {"values": []}, "mark": "point"},
 {"width": 191, "height": 141, "layer": [
   {"data": {"name": "d"}, "mark": {"type": "line", "strokeWidth": 1.4},
    "encoding": {"x": {"field": "x", "type": "quantitative", "scale": {"domain": [0, 4]}, "axis": null},
     "y": {"field": "y", "type": "quantitative", "scale": {"domain": [-0.23, 8.44]}, "axis": {"values": [0,2,4,6], "tickCount": 20, "labelExpr": "datum.value === 0 ? '0' : format(datum.value, '.1f')", "title": null}},
     "color": {"field": "p", "type": "nominal", "scale": {"domain": ["d1","d2","d3","d4"], "range": ["#000000","#ff0000","#0000ff","#ff00ff"]}, "legend": null}}},
   {"data": {"values": [{}]}, "mark": {"type": "rule", "color": "#000000", "strokeWidth": 1.5}, "encoding": {"y": {"datum": 6.53}}},
   {"data": {"values": [{}]}, "mark": {"type": "rule", "color": "#000000", "strokeWidth": 1.5}, "encoding": {"x": {"datum": 1.026}}},
   {"data": {"values": [{}]}, "mark": {"type": "rule", "color": "#000000", "strokeWidth": 1.5}, "encoding": {"x": {"datum": 2.073}}},
   {"data": {"values": [{}]}, "mark": {"type": "rule", "color": "#000000", "strokeWidth": 1.5}, "encoding": {"x": {"datum": 3.058}}},
   {"data": {"values": [{}]}, "mark": {"type": "text", "text": "(d1)", "align": "center", "baseline": "middle", "fontSize": 20}, "encoding": {"x": {"datum": 0.513}, "y": {"datum": 7.5}}},
   {"data": {"values": [{}]}, "mark": {"type": "text", "text": "(d2)", "align": "center", "baseline": "middle", "fontSize": 20}, "encoding": {"x": {"datum": 1.55}, "y": {"datum": 7.5}}},
   {"data": {"values": [{}]}, "mark": {"type": "text", "text": "(d3)", "align": "center", "baseline": "middle", "fontSize": 20}, "encoding": {"x": {"datum": 2.565}, "y": {"datum": 7.5}}},
   {"data": {"values": [{}]}, "mark": {"type": "text", "text": "(d4)", "align": "center", "baseline": "middle", "fontSize": 20}, "encoding": {"x": {"datum": 3.53}, "y": {"datum": 7.5}}}
 ]},
 {"width": 1, "height": 7, "view": {"stroke": null}, "data": {"values": []}, "mark": "point"},
 {"width": 1, "height": 7, "view": {"stroke": null}, "data": {"values": []}, "mark": "point"},
 {"width": 1, "height": 7, "view": {"stroke": null}, "data": {"values": []}, "mark": "point"},
 {"width": 1, "height": 7, "view": {"stroke": null}, "data": {"values": []}, "mark": "point"},
 {"width": 1, "height": 7, "view": {"stroke": null}, "data": {"values": []}, "mark": "point"},
 {"width": 166, "height": 139, "layer": [
   {"data": {"name": "b1"}, "mark": {"type": "area", "strokeWidth": 0.8, "clip": true},
    "encoding": {
     "x": {"field": "x", "type": "quantitative", "scale": {"domain": [29, 373]}, "axis": {"values": [50,100,150,200,250,300,350], "tickCount": 20, "labels": false, "title": null}},
     "y": {"field": "hi", "type": "quantitative", "scale": {"domain": [-1.95, 7.75]}, "axis": {"values": [0,2,4,6], "tickCount": 20, "labelExpr": "datum.value === 0 ? '0' : format(datum.value, '.1f')", "title": "Conj. FWM", "titlePadding": -3}},
     "y2": {"field": "lo"},
     "color": {"field": "s", "type": "ordinal", "scale": {"domain": [50,100,150,200,250,300,350], "range": ["#000000","#ff0000","#0000ff","#ff00ff","#008000","#000080","#8000ff"]}, "legend": null},
     "stroke": {"field": "s", "type": "ordinal", "scale": {"domain": [50,100,150,200,250,300,350], "range": ["#000000","#ff0000","#0000ff","#ff00ff","#008000","#000080","#8000ff"]}, "legend": null}
    }},
   {"data": {"name": "b1d"}, "mark": {"type": "line", "color": "#f01e1e", "strokeWidth": 3.5, "strokeDash": [7, 5], "interpolate": "monotone", "clip": true},
    "encoding": {"x": {"field": "x", "type": "quantitative"}, "y": {"field": "y", "type": "quantitative"}}},
   {"data": {"values": [{}]}, "mark": {"type": "text", "text": "Signal intensities (μW)", "angle": 270, "align": "center", "baseline": "middle", "fontSize": 20}, "encoding": {"x": {"datum": -105}, "y": {"datum": 3.36}}},
   {"data": {"values": [{}]}, "mark": {"type": "text", "text": "(b1)", "align": "left", "baseline": "middle", "fontSize": 20}, "encoding": {"x": {"datum": 45.5}, "y": {"datum": 6.5}}},
   {"data": {"values": [{}]}, "mark": {"type": "text", "text": "85", "align": "left", "baseline": "middle", "fontSize": 12, "dy": -6}, "encoding": {"x": {"datum": 121}, "y": {"datum": 6.5}}},
   {"data": {"values": [{}]}, "mark": {"type": "text", "text": "Rb,", "align": "left", "baseline": "middle", "fontSize": 18}, "encoding": {"x": {"datum": 142}, "y": {"datum": 6.5}}},
   {"data": {"values": [{}]}, "mark": {"type": "text", "text": "F=3→F′", "align": "left", "baseline": "middle", "fontSize": 17, "fontStyle": "italic"}, "encoding": {"x": {"datum": 199}, "y": {"datum": 6.5}}}
 ]},
 {"width": 47, "height": 1, "view": {"stroke": null}, "data": {"values": []}, "mark": "point"},
 {"width": 173, "height": 139, "layer": [
   {"data": {"name": "b2"}, "mark": {"type": "area", "strokeWidth": 0.8, "clip": true},
    "encoding": {
     "x": {"field": "x", "type": "quantitative", "scale": {"domain": [17, 398]}, "axis": {"values": [50,100,150,200,250,300,350], "tickCount": 20, "labels": false, "title": null}},
     "y": {"field": "hi", "type": "quantitative", "scale": {"domain": [-1.95, 7.75]}, "axis": {"values": [0,2,4,6], "tickCount": 20, "labelExpr": "datum.value === 0 ? '0' : format(datum.value, '.1f')", "title": null}},
     "y2": {"field": "lo"},
     "color": {"field": "s", "type": "ordinal", "scale": {"domain": [50,100,150,200,250,300,350], "range": ["#000000","#ff0000","#0000ff","#ff00ff","#008000","#000080","#8000ff"]}, "legend": null},
     "stroke": {"field": "s", "type": "ordinal", "scale": {"domain": [50,100,150,200,250,300,350], "range": ["#000000","#ff0000","#0000ff","#ff00ff","#008000","#000080","#8000ff"]}, "legend": null}
    }},
   {"data": {"name": "b2d"}, "mark": {"type": "line", "color": "#f01e1e", "strokeWidth": 3.5, "strokeDash": [7, 5], "interpolate": "monotone", "clip": true},
    "encoding": {"x": {"field": "x", "type": "quantitative"}, "y": {"field": "y", "type": "quantitative"}}},
   {"data": {"values": [{}]}, "mark": {"type": "text", "text": "(b2)", "align": "left", "baseline": "middle", "fontSize": 20}, "encoding": {"x": {"datum": 39}, "y": {"datum": 6.5}}},
   {"data": {"values": [{}]}, "mark": {"type": "text", "text": "85", "align": "left", "baseline": "middle", "fontSize": 12, "dy": -6}, "encoding": {"x": {"datum": 117}, "y": {"datum": 6.5}}},
   {"data": {"values": [{}]}, "mark": {"type": "text", "text": "Rb,", "align": "left", "baseline": "middle", "fontSize": 18}, "encoding": {"x": {"datum": 139}, "y": {"datum": 6.5}}},
   {"data": {"values": [{}]}, "mark": {"type": "text", "text": "F=2→F′", "align": "left", "baseline": "middle", "fontSize": 17, "fontStyle": "italic"}, "encoding": {"x": {"datum": 226}, "y": {"datum": 6.5}}}
 ]},
 {"width": 32, "height": 1, "view": {"stroke": null}, "data": {"values": []}, "mark": "point"},
 {"width": 191, "height": 139, "layer": [
   {"data": {"name": "e1f"}, "mark": {"type": "line", "strokeWidth": 2, "interpolate": "monotone"},
    "encoding": {
     "x": {"field": "x", "type": "quantitative", "scale": {"domain": [24.4, 373.8]}, "axis": {"values": [50,100,150,200,250,300,350], "tickCount": 20, "labels": false, "title": null}},
     "y": {"field": "y", "type": "quantitative", "scale": {"domain": [-0.05, 9.8]}, "axis": {"values": [0,2,4,6,8], "tickCount": 20, "labelExpr": "datum.value === 0 ? '0' : format(datum.value, '.1f')", "title": null}},
     "color": {"field": "g", "type": "nominal", "scale": {"domain": ["Probe gain","Conj. gain","EIA"], "range": ["#000000","#ff0000","#0000ff"]}, "legend": null}
    }},
   {"data": {"name": "e1p"}, "transform": [{"filter": "datum.g === 'Probe gain'"}], "mark": {"type": "point", "shape": "square", "filled": true, "size": 55, "color": "#000000", "opacity": 1},
    "encoding": {"x": {"field": "x", "type": "quantitative"}, "y": {"field": "y", "type": "quantitative"}}},
   {"data": {"name": "e1p"}, "transform": [{"filter": "datum.g === 'Conj. gain'"}], "mark": {"type": "point", "shape": "triangle-up", "filled": true, "size": 60, "color": "#ff0000", "opacity": 1},
    "encoding": {"x": {"field": "x", "type": "quantitative"}, "y": {"field": "y", "type": "quantitative"}}},
   {"data": {"name": "e1p"}, "transform": [{"filter": "datum.g === 'EIA'"}], "mark": {"type": "point", "shape": "circle", "filled": true, "size": 60, "color": "#0000ff", "opacity": 1},
    "encoding": {"x": {"field": "x", "type": "quantitative"}, "y": {"field": "y", "type": "quantitative"}}},
   {"data": {"values": [{}]}, "mark": {"type": "rule", "color": "#000000", "strokeWidth": 2}, "encoding": {"x": {"datum": 42.7}, "x2": {"datum": 106.7}, "y": {"datum": 9.23}}},
   {"data": {"values": [{}]}, "mark": {"type": "point", "shape": "square", "filled": true, "size": 55, "color": "#000000", "opacity": 1}, "encoding": {"x": {"datum": 73}, "y": {"datum": 9.23}}},
   {"data": {"values": [{}]}, "mark": {"type": "text", "text": "Probe gain", "align": "left", "baseline": "middle", "fontSize": 16, "color": "#000000"}, "encoding": {"x": {"datum": 112.2}, "y": {"datum": 9.23}}},
   {"data": {"values": [{}]}, "mark": {"type": "rule", "color": "#ff0000", "strokeWidth": 2}, "encoding": {"x": {"datum": 42.7}, "x2": {"datum": 106.7}, "y": {"datum": 7.96}}},
   {"data": {"values": [{}]}, "mark": {"type": "point", "shape": "triangle-up", "filled": true, "size": 60, "color": "#ff0000", "opacity": 1}, "encoding": {"x": {"datum": 73}, "y": {"datum": 7.96}}},
   {"data": {"values": [{}]}, "mark": {"type": "text", "text": "Conj. gain", "align": "left", "baseline": "middle", "fontSize": 16, "color": "#ff0000"}, "encoding": {"x": {"datum": 112.2}, "y": {"datum": 7.96}}},
   {"data": {"values": [{}]}, "mark": {"type": "rule", "color": "#0000ff", "strokeWidth": 2}, "encoding": {"x": {"datum": 42.7}, "x2": {"datum": 106.7}, "y": {"datum": 6.68}}},
   {"data": {"values": [{}]}, "mark": {"type": "point", "shape": "circle", "filled": true, "size": 60, "color": "#0000ff", "opacity": 1}, "encoding": {"x": {"datum": 73}, "y": {"datum": 6.68}}},
   {"data": {"values": [{}]}, "mark": {"type": "text", "text": "EIA", "align": "left", "baseline": "middle", "fontSize": 16, "color": "#0000ff"}, "encoding": {"x": {"datum": 112.2}, "y": {"datum": 6.68}}},
   {"data": {"values": [{}]}, "mark": {"type": "text", "text": "(e1)", "align": "right", "baseline": "middle", "fontSize": 20}, "encoding": {"x": {"datum": 364.6}, "y": {"datum": 8.8}}},
   {"data": {"values": [{}]}, "mark": {"type": "text", "text": "F=3→F′", "align": "left", "baseline": "middle", "fontSize": 15, "fontStyle": "italic"}, "encoding": {"x": {"datum": 225.6}, "y": {"datum": 3.9}}}
 ]},
 {"width": 1, "height": 11, "view": {"stroke": null}, "data": {"values": []}, "mark": "point"},
 {"width": 1, "height": 11, "view": {"stroke": null}, "data": {"values": []}, "mark": "point"},
 {"width": 1, "height": 11, "view": {"stroke": null}, "data": {"values": []}, "mark": "point"},
 {"width": 1, "height": 11, "view": {"stroke": null}, "data": {"values": []}, "mark": "point"},
 {"width": 1, "height": 11, "view": {"stroke": null}, "data": {"values": []}, "mark": "point"},
 {"width": 166, "height": 139, "layer": [
   {"data": {"name": "c1"}, "mark": {"type": "area", "strokeWidth": 0.8, "clip": true},
    "encoding": {
     "x": {"field": "x", "type": "quantitative", "scale": {"domain": [29, 373]}, "axis": {"values": [50,100,150,200,250,300,350], "tickCount": 20, "labelExpr": "datum.value == 100 || datum.value == 200 || datum.value == 300 ? format(datum.value, 'd') : ''", "title": "P₁ (mW)", "titlePadding": -5}},
     "y": {"field": "hi", "type": "quantitative", "scale": {"domain": [0, 9.75]}, "axis": {"values": [0,2,4,6,8], "tickCount": 20, "labelExpr": "datum.value === 0 ? '0' : format(datum.value, '.1f')", "title": "Intensity diff.", "titlePadding": -3}},
     "y2": {"field": "lo"},
     "color": {"field": "s", "type": "ordinal", "scale": {"domain": [50,100,150,200,250,300,350], "range": ["#000000","#ff0000","#0000ff","#ff00ff","#008000","#000080","#8000ff"]}, "legend": null},
     "stroke": {"field": "s", "type": "ordinal", "scale": {"domain": [50,100,150,200,250,300,350], "range": ["#000000","#ff0000","#0000ff","#ff00ff","#008000","#000080","#8000ff"]}, "legend": null}
    }},
   {"data": {"name": "c1d"}, "mark": {"type": "line", "color": "#f01e1e", "strokeWidth": 3.5, "strokeDash": [7, 5], "interpolate": "monotone"},
    "encoding": {"x": {"field": "x", "type": "quantitative"}, "y": {"field": "y", "type": "quantitative"}}},
   {"data": {"values": [{}]}, "mark": {"type": "text", "text": "(c1)", "align": "left", "baseline": "middle", "fontSize": 20}, "encoding": {"x": {"datum": 45.5}, "y": {"datum": 8.63}}}
 ]},
 {"width": 47, "height": 1, "view": {"stroke": null}, "data": {"values": []}, "mark": "point"},
 {"width": 173, "height": 139, "layer": [
   {"data": {"name": "c2"}, "mark": {"type": "area", "strokeWidth": 0.8, "clip": true},
    "encoding": {
     "x": {"field": "x", "type": "quantitative", "scale": {"domain": [17, 398]}, "axis": {"values": [50,100,150,200,250,300,350], "tickCount": 20, "labelExpr": "datum.value == 100 || datum.value == 200 || datum.value == 300 ? format(datum.value, 'd') : ''", "title": "P₁ (mW)", "titlePadding": -5}},
     "y": {"field": "hi", "type": "quantitative", "scale": {"domain": [2.0, 5.28]}, "axis": {"values": [2,3,4,5], "tickCount": 20, "format": ".1f", "title": null}},
     "y2": {"field": "lo"},
     "color": {"field": "s", "type": "ordinal", "scale": {"domain": [50,100,150,200,250,300,350], "range": ["#000000","#ff0000","#0000ff","#ff00ff","#008000","#000080","#8000ff"]}, "legend": null},
     "stroke": {"field": "s", "type": "ordinal", "scale": {"domain": [50,100,150,200,250,300,350], "range": ["#000000","#ff0000","#0000ff","#ff00ff","#008000","#000080","#8000ff"]}, "legend": null}
    }},
   {"data": {"name": "c2d"}, "mark": {"type": "line", "color": "#f01e1e", "strokeWidth": 3.5, "strokeDash": [7, 5], "interpolate": "monotone"},
    "encoding": {"x": {"field": "x", "type": "quantitative"}, "y": {"field": "y", "type": "quantitative"}}},
   {"data": {"values": [{}]}, "mark": {"type": "text", "text": "(c2)", "align": "left", "baseline": "middle", "fontSize": 20}, "encoding": {"x": {"datum": 39}, "y": {"datum": 4.84}}}
 ]},
 {"width": 32, "height": 1, "view": {"stroke": null}, "data": {"values": []}, "mark": "point"},
 {"width": 191, "height": 139, "layer": [
   {"data": {"name": "e2f"}, "mark": {"type": "line", "strokeWidth": 2, "interpolate": "monotone"},
    "encoding": {
     "x": {"field": "x", "type": "quantitative", "scale": {"domain": [24.4, 373.8]}, "axis": {"values": [50,100,150,200,250,300,350], "tickCount": 20, "labelExpr": "datum.value == 100 || datum.value == 200 || datum.value == 300 ? format(datum.value, 'd') : ''", "title": "P₁ (mW)", "titlePadding": -5}},
     "y": {"field": "y", "type": "quantitative", "scale": {"domain": [-0.03, 9.72]}, "axis": {"values": [0,2,4,6,8], "tickCount": 20, "labelExpr": "datum.value === 0 ? '0' : format(datum.value, '.1f')", "title": null}},
     "color": {"field": "g", "type": "nominal", "scale": {"domain": ["Probe gain","Conj. gain"], "range": ["#000000","#ff0000"]}, "legend": null}
    }},
   {"data": {"name": "e2p"}, "transform": [{"filter": "datum.g === 'Probe gain'"}], "mark": {"type": "point", "shape": "square", "filled": true, "size": 55, "color": "#000000", "opacity": 1},
    "encoding": {"x": {"field": "x", "type": "quantitative"}, "y": {"field": "y", "type": "quantitative"}}},
   {"data": {"name": "e2p"}, "transform": [{"filter": "datum.g === 'Conj. gain'"}], "mark": {"type": "point", "shape": "triangle-up", "filled": true, "size": 60, "color": "#ff0000", "opacity": 1},
    "encoding": {"x": {"field": "x", "type": "quantitative"}, "y": {"field": "y", "type": "quantitative"}}},
   {"data": {"values": [{}]}, "mark": {"type": "rule", "color": "#000000", "strokeWidth": 2}, "encoding": {"x": {"datum": 42.7}, "x2": {"datum": 106.7}, "y": {"datum": 8.95}}},
   {"data": {"values": [{}]}, "mark": {"type": "point", "shape": "square", "filled": true, "size": 55, "color": "#000000", "opacity": 1}, "encoding": {"x": {"datum": 73}, "y": {"datum": 8.95}}},
   {"data": {"values": [{}]}, "mark": {"type": "text", "text": "Probe gain", "align": "left", "baseline": "middle", "fontSize": 16, "color": "#000000"}, "encoding": {"x": {"datum": 112.2}, "y": {"datum": 8.95}}},
   {"data": {"values": [{}]}, "mark": {"type": "rule", "color": "#ff0000", "strokeWidth": 2}, "encoding": {"x": {"datum": 42.7}, "x2": {"datum": 106.7}, "y": {"datum": 7.69}}},
   {"data": {"values": [{}]}, "mark": {"type": "point", "shape": "triangle-up", "filled": true, "size": 60, "color": "#ff0000", "opacity": 1}, "encoding": {"x": {"datum": 73}, "y": {"datum": 7.69}}},
   {"data": {"values": [{}]}, "mark": {"type": "text", "text": "Conj. gain", "align": "left", "baseline": "middle", "fontSize": 16, "color": "#ff0000"}, "encoding": {"x": {"datum": 112.2}, "y": {"datum": 7.69}}},
   {"data": {"values": [{}]}, "mark": {"type": "text", "text": "(e2)", "align": "right", "baseline": "middle", "fontSize": 20}, "encoding": {"x": {"datum": 364.6}, "y": {"datum": 8.74}}},
   {"data": {"values": [{}]}, "mark": {"type": "text", "text": "F=2→F′", "align": "left", "baseline": "middle", "fontSize": 15, "fontStyle": "italic"}, "encoding": {"x": {"datum": 225.6}, "y": {"datum": 1.93}}}
 ]}
]
}
